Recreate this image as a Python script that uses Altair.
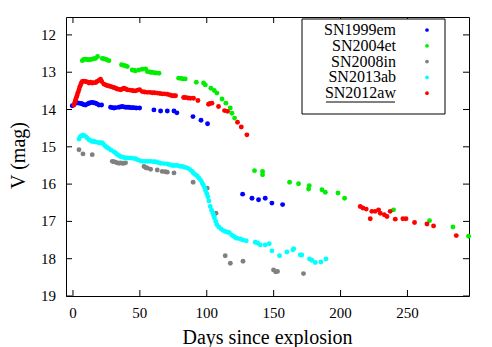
import altair as alt
import pandas as pd

names = ["SN1999em", "SN2004et", "SN2008in", "SN2013ab", "SN2012aw"]
colors = ["#0000ff", "#00ee00", "#808080", "#00ffff", "#ff0000"]

em_day = [-0.5, 1, 2, 3, 4.5, 6, 7, 8, 9.4, 11, 12, 13, 14.4, 15.5, 16.9, 18, 19.4, 21.4,
          28.1, 29.5, 30.6, 32, 34.4, 35.5, 36.8, 38, 39.3, 40.5, 41.8, 43, 44.3, 45.5, 47.3, 49.8,
          60.5, 65.5, 70.5, 75.5, 77.7, 89.7, 95.7, 100.6,
          126.8, 133.8, 138.7, 143.7, 148.7, 156.7]
em_mag = [13.90, 13.86, 13.81, 13.82, 13.83, 13.84, 13.85, 13.87, 13.88, 13.85, 13.83, 13.82, 13.81, 13.82, 13.83, 13.85, 13.88, 13.88,
          13.94, 13.95, 13.96, 13.95, 13.94, 13.93, 13.92, 13.93, 13.94, 13.94, 13.94, 13.95, 13.95, 13.95, 13.96, 13.96,
          14.01, 14.04, 14.04, 14.04, 14.09, 14.19, 14.29, 14.38,
          16.27, 16.38, 16.42, 16.38, 16.51, 16.55]

et_day = [7.0, 8, 9.4, 10.5, 12, 13, 14.4, 15.5, 16.9, 18.4, 21.9, 23, 24.4, 25.5, 26.9,
          36.3, 38.1, 39.5, 40.6, 44.3, 45.5, 46.8, 49.3, 51.8, 54.3, 55.5, 57, 58, 59, 60.5, 62, 64.3,
          79, 81, 82.7, 83.9, 92.2, 97.6, 98.9, 103.1, 105.6, 107.6, 111.4, 114.3, 117.6, 118.8, 120.8,
          135.7, 141.7, 141.7, 161.9, 168.6, 176.6, 176.1, 186.1, 188.6, 198.1, 203,
          239.6, 266.5, 284, 295.7]
et_mag = [12.69, 12.66, 12.65, 12.66, 12.67, 12.66, 12.65, 12.64, 12.63, 12.58, 12.63, 12.64, 12.65, 12.67, 12.69,
          12.80, 12.82, 12.83, 12.85, 12.94, 12.95, 12.96, 12.94, 12.92, 12.91, 12.98, 12.99, 13.00, 13.00, 13.01, 13.02, 13.03,
          13.16, 13.17, 13.18, 13.18, 13.27, 13.29, 13.34, 13.43, 13.49, 13.56, 13.72, 13.83, 13.96, 14.10, 14.23,
          15.64, 15.66, 15.75, 15.95, 15.99, 16.04, 16.13, 16.15, 16.22, 16.24, 16.38,
          16.69, 16.98, 17.15, 17.40]

in_day = [4.5, 7.5, 14.4, 29.4, 30.5, 31.8, 33, 34.4, 35.5, 36.8, 38, 39.3,
          53.1, 54.5, 55.5, 58, 63, 66.7, 69, 70.5, 75.5, 89.8, 100.3, 106.9,
          113.8, 117.6, 127.1, 149.9, 151.5, 152.9, 172.3]
in_mag = [15.08, 15.19, 15.21, 15.39, 15.40, 15.41, 15.43, 15.44, 15.43, 15.44, 15.44, 15.43,
          15.53, 15.56, 15.57, 15.60, 15.62, 15.66, 15.67, 15.68, 15.70, 15.95, 16.11, 16.78,
          17.92, 18.12, 18.07, 18.30, 18.35, 18.34, 18.40]

ab_day = [4.5, 5.7, 6.5, 7.5, 8.5, 9.4, 10.5, 12, 13, 14.4, 15.5, 16.9, 18.5, 19.9, 21, 21.9, 23, 24.4,
          25.5, 26.9, 28.5, 30.6, 32, 33.1, 34.5, 35.6, 37.5, 39.3, 41, 43, 45, 46.8, 48.5, 50.5, 52.5,
          54.3, 56, 58, 60, 61.7, 63.5, 65.5, 68, 70.5, 72.5, 74.2, 76, 78, 80, 81.7, 83.5, 85.4, 87.3,
          89.2, 90.1, 91.6, 93, 94.2, 95.5, 96.6, 97.5, 98.4, 99.2, 100, 100.8, 101.6, 102.6, 103.6,
          104.6, 105.2, 105.8, 106.7, 107.6, 109, 110.6, 112, 113.8, 115.5, 116.8, 118.5, 120, 121.3,
          122.6, 125, 127, 129.5, 136.2, 138, 140, 143.7, 146.7, 148.7, 154.4, 159.9, 164.4, 165,
          169.9, 171, 176.8, 178.5, 181.1, 185.3, 189.1]
ab_mag = [14.79, 14.72, 14.70, 14.69, 14.70, 14.72, 14.76, 14.81, 14.83, 14.86, 14.85, 14.87, 14.88, 14.90, 14.89, 14.90, 14.94, 14.99,
          15.02, 15.05, 15.09, 15.13, 15.17, 15.21, 15.24, 15.26, 15.28, 15.30, 15.30, 15.30, 15.31, 15.32, 15.35, 15.38, 15.39,
          15.39, 15.39, 15.39, 15.40, 15.40, 15.42, 15.44, 15.45, 15.46, 15.48, 15.50, 15.50, 15.50, 15.52, 15.53, 15.55, 15.57, 15.61,
          15.66, 15.71, 15.75, 15.79, 15.84, 15.90, 15.97, 16.03, 16.10, 16.18, 16.26, 16.34, 16.45, 16.60, 16.70,
          16.78, 16.85, 16.91, 17.00, 17.09, 17.15, 17.20, 17.24, 17.27, 17.29, 17.30, 17.36, 17.40, 17.43,
          17.45, 17.47, 17.50, 17.52, 17.56, 17.58, 17.63, 17.63, 17.60, 17.79, 17.92, 17.82, 17.76, 17.73,
          17.90, 17.90, 18.01, 18.04, 18.10, 18.09, 18.01]

aw_day = [0.7, 1.5, 2, 2.6, 3.2, 3.8, 4.5, 5, 5.7, 6.3, 7, 8, 9.4, 10.5, 12, 13, 14.4, 15.5, 16.9, 18,
          19.4, 20.6, 21.5, 23.2, 24.5, 25.6, 27, 28.1, 29.5, 30.6, 32, 33.1, 34.5, 35.6, 37, 38.1, 39.5,
          40.6, 42.5, 44.3, 45.5, 46.8, 48.3, 49.8, 51.8, 53.5, 55.5, 57.5, 59.3, 61, 63, 65, 66.7, 68.5,
          70.5, 72.5, 74.2, 75.5, 76.7, 82.7, 84, 86, 87.7, 90.1, 93.4, 101.3, 102.5, 103.9, 108.8, 113.3,
          115.5, 123, 125.8, 130,
          214.7, 216.7, 219.2, 222.2, 223.4, 225.9, 228.4, 229.7, 232.7, 234.7, 237.1, 240.9, 246.6, 248.9,
          255.3, 264.6, 269.5, 286.5]
aw_mag = [13.88, 13.80, 13.74, 13.67, 13.61, 13.54, 13.47, 13.40, 13.34, 13.29, 13.25, 13.24, 13.25, 13.26, 13.29, 13.27, 13.29, 13.28, 13.28, 13.25,
          13.22, 13.19, 13.25, 13.32, 13.34, 13.36, 13.37, 13.38, 13.40, 13.41, 13.43, 13.45, 13.46, 13.47, 13.45, 13.43, 13.45,
          13.47, 13.48, 13.49, 13.50, 13.50, 13.48, 13.47, 13.52, 13.53, 13.54, 13.54, 13.55, 13.55, 13.56, 13.57, 13.58, 13.58,
          13.59, 13.61, 13.63, 13.63, 13.63, 13.68, 13.68, 13.69, 13.70, 13.70, 13.76, 13.86, 13.84, 13.83, 13.92, 14.03,
          14.05, 14.34, 14.47, 14.68,
          16.60, 16.64, 16.67, 16.93, 16.73, 16.73, 16.69, 16.78, 16.82, 16.87, 16.73, 16.94, 16.93, 16.93,
          17.03, 17.07, 17.12, 17.38]

x_ticks = [0, 50, 100, 150, 200, 250]
y_ticks = [12, 13, 14, 15, 16, 17, 18, 19]
x_title = "Days since explosion"
y_title = "V (mag)"

series = [(names[0], em_day, em_mag), (names[1], et_day, et_mag), (names[2], in_day, in_mag),
          (names[3], ab_day, ab_mag), (names[4], aw_day, aw_mag)]
rows = []
for sn, days, mags in series:
    for d, m in zip(days, mags):
        rows.append({"sn": sn, "day": d, "mag": m, "idx": len(rows)})
df = pd.DataFrame(rows)

W, H = 403, 279
FONT = "Liberation Serif"
xs = alt.Scale(domain=[-5.2, 296], nice=False, zero=False)
ys = alt.Scale(domain=[11.52, 19], nice=False, zero=False, reverse=True)
cs = alt.Scale(domain=names, range=colors)

points = alt.Chart(df).mark_circle(size=24, opacity=1).encode(
    x=alt.X("day:Q", scale=xs, axis=None),
    y=alt.Y("mag:Q", scale=ys, axis=None),
    color=alt.Color("sn:N", scale=cs, legend=None),
    order=alt.Order("idx:Q"),
)

xt = pd.DataFrame({"day": x_ticks, "lab": [str(v) for v in x_ticks]})
yt = pd.DataFrame({"mag": y_ticks, "lab": [str(v) for v in y_ticks]})
tick_b = alt.Chart(xt).mark_rule(color="black").encode(
    x=alt.X("day:Q", scale=xs, axis=None), y=alt.value(H), y2=alt.value(H - 6))
tick_t = alt.Chart(xt).mark_rule(color="black").encode(
    x=alt.X("day:Q", scale=xs, axis=None), y=alt.value(0), y2=alt.value(6))
tick_l = alt.Chart(yt).mark_rule(color="black").encode(
    y=alt.Y("mag:Q", scale=ys, axis=None), x=alt.value(0), x2=alt.value(6))
tick_r = alt.Chart(yt).mark_rule(color="black").encode(
    y=alt.Y("mag:Q", scale=ys, axis=None), x=alt.value(W - 6), x2=alt.value(W))
lab_x = alt.Chart(xt).mark_text(font=FONT, fontSize=15, color="black", align="center", baseline="top").encode(
    x=alt.X("day:Q", scale=xs, axis=None), y=alt.value(H + 10), text="lab:N")
lab_y = alt.Chart(yt).mark_text(font=FONT, fontSize=15, color="black", align="right", baseline="middle").encode(
    y=alt.Y("mag:Q", scale=ys, axis=None), x=alt.value(-10), text="lab:N")
title_x = alt.Chart(pd.DataFrame({"t": [x_title]})).mark_text(
    font=FONT, fontSize=20, color="black", align="center", baseline="alphabetic").encode(
    x=alt.value(W / 2), y=alt.value(H + 48), text="t:N")
title_y = alt.Chart(pd.DataFrame({"t": [y_title]})).mark_text(
    font=FONT, fontSize=20, color="black", align="center", baseline="middle", angle=270).encode(
    x=alt.value(-47), y=alt.value(H / 2 - 1), text="t:N")

leg = pd.DataFrame({"sn": names, "row": list(range(len(names)))})
ls = alt.Scale(domain=[0, 4], range=[13, 76.2])
box = alt.Chart(pd.DataFrame({"a": [0]})).mark_rect(fill="white", stroke="black", strokeWidth=1).encode(
    x=alt.value(236), x2=alt.value(379), y=alt.value(2), y2=alt.value(97))
leg_text = alt.Chart(leg).mark_text(align="right", baseline="middle", font=FONT, fontSize=16, color="black").encode(
    x=alt.value(330), y=alt.Y("row:Q", scale=ls, axis=None), text="sn:N")
leg_dot = alt.Chart(leg).mark_circle(size=14, opacity=1).encode(
    x=alt.value(361), y=alt.Y("row:Q", scale=ls, axis=None),
    color=alt.Color("sn:N", scale=cs, legend=None))
underline = alt.Chart(pd.DataFrame({"a": [0]})).mark_rule(color="black").encode(
    x=alt.value(260), x2=alt.value(329), y=alt.value(85))

chart = alt.layer(points, tick_b, tick_t, tick_l, tick_r, lab_x, lab_y, title_x, title_y,
                  box, leg_text, leg_dot, underline).resolve_scale(
    y="independent"
).properties(
    width=W, height=H,
    padding={"left": 58, "top": 9, "right": 8, "bottom": 51},
    autosize=alt.AutoSizeParams(type="none"),
).configure_view(stroke="black", strokeWidth=1)

chart.save("out.html", embed_options={"renderer": "svg", "actions": False})
